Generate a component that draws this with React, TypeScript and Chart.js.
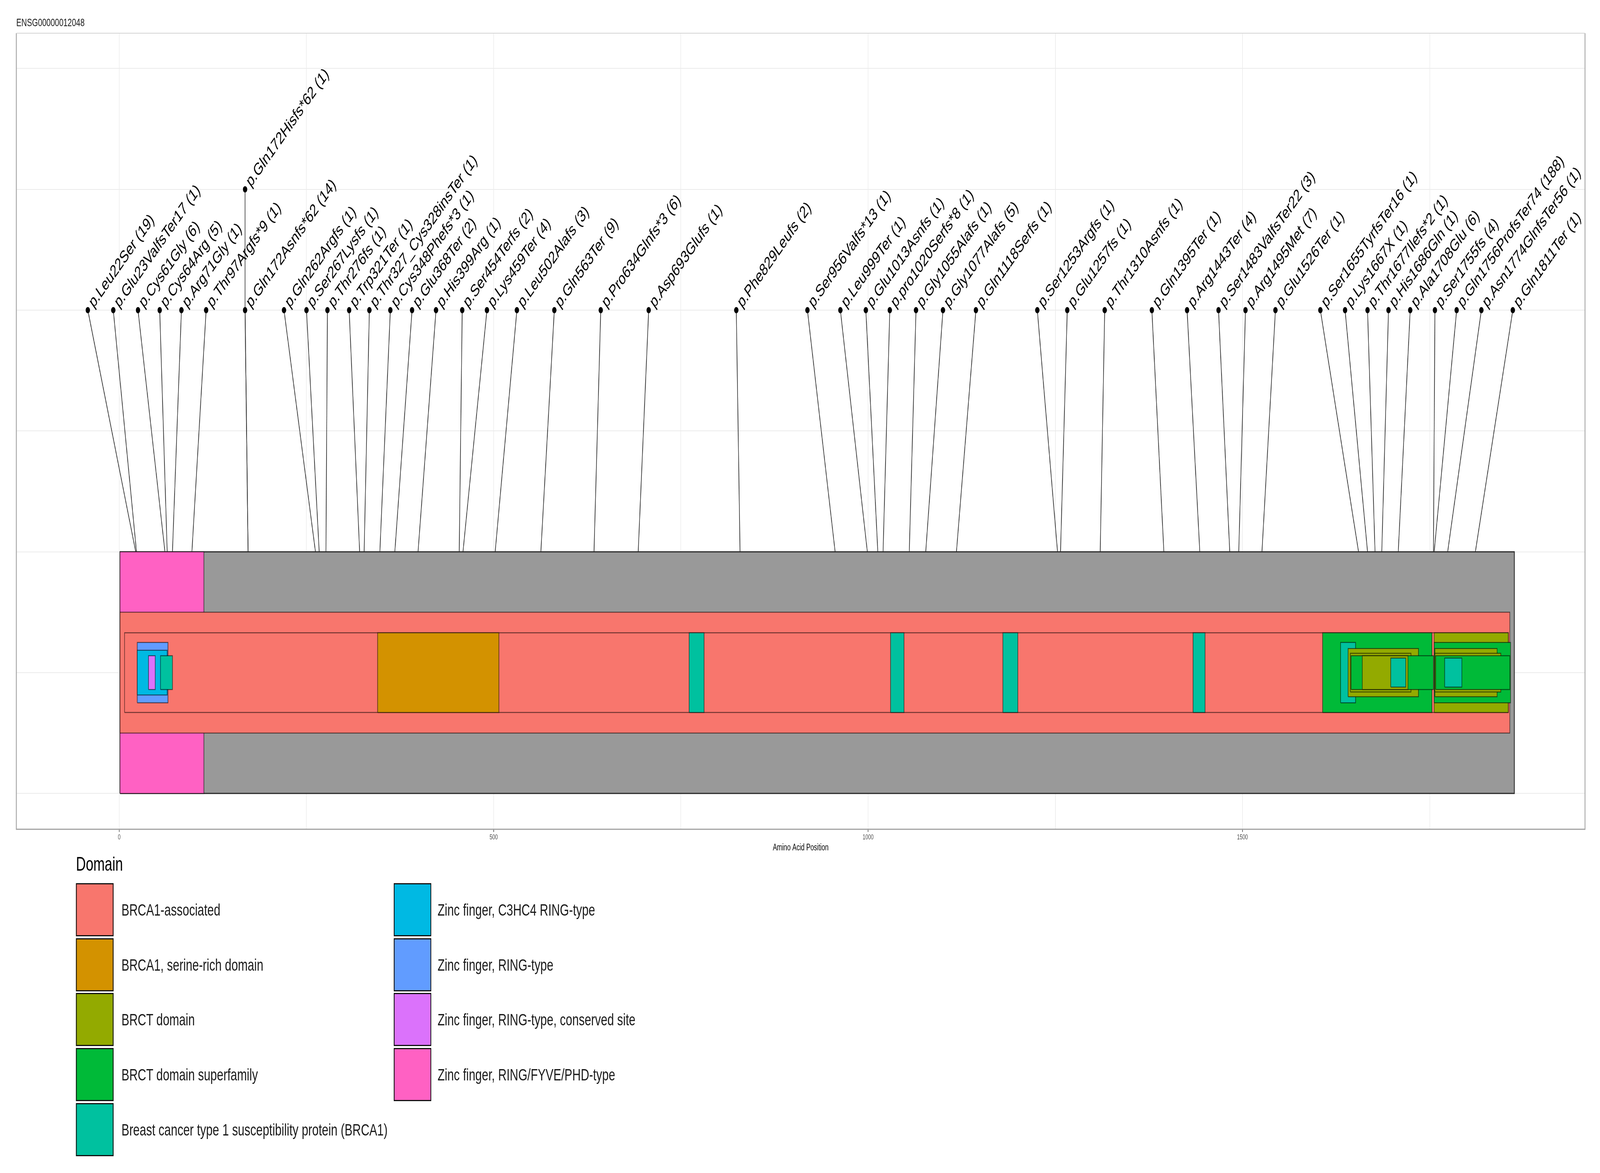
import React, { useEffect, useRef } from 'react';
import { Chart, registerables } from 'chart.js';

Chart.register(...registerables);

// ---------------- data ----------------
const geneId = 'ENSG00000012048';

const mutationNames = [
  'p.Leu22Ser', 'p.Glu23ValfsTer17', 'p.Cys61Gly', 'p.Cys64Arg', 'p.Arg71Gly', 'p.Thr97Argfs*9',
  'p.Gln172Hisfs*62', 'p.Gln172Asnfs*62', 'p.Gln262Argfs', 'p.Ser267Lysfs', 'p.Thr276fs',
  'p.Trp321Ter', 'p.Thr327_Cys328insTer', 'p.Cys348Phefs*3', 'p.Glu368Ter', 'p.His399Arg',
  'p.Ser454Terfs', 'p.Lys459Ter', 'p.Leu502Alafs', 'p.Gln563Ter', 'p.Pro634Glnfs*3',
  'p.Asp693Glufs', 'p.Phe829Leufs', 'p.Ser956Valfs*13', 'p.Leu999Ter', 'p.Glu1013Asnfs',
  'p.pro1020Serfs*8', 'p.Gly1055Alafs', 'p.Gly1077Alafs', 'p.Gln1118Serfs', 'p.Ser1253Argfs',
  'p.Glu1257fs', 'p.Thr1310Asnfs', 'p.Gln1395Ter', 'p.Arg1443Ter', 'p.Ser1483ValfsTer22',
  'p.Arg1495Met', 'p.Glu1526Ter', 'p.Ser1655TyrfsTer16', 'p.Lys1667X', 'p.Thr1677Ilefs*2',
  'p.His1686Gln', 'p.Ala1708Glu', 'p.Ser1755fs', 'p.Gln1756ProfsTer74', 'p.Asn1774GlnfsTer56',
  'p.Gln1811Ter',
];
const mutationPositions = [
  22, 23, 61, 64, 71, 97, 172, 172, 262, 267, 276, 321, 327, 348, 368, 399, 454, 459, 502, 563,
  634, 693, 829, 956, 999, 1013, 1020, 1055, 1077, 1118, 1253, 1257, 1310, 1395, 1443, 1483,
  1495, 1526, 1655, 1667, 1677, 1686, 1708, 1755, 1756, 1774, 1811,
];
const mutationCounts = [
  19, 1, 6, 5, 1, 1, 1, 14, 1, 1, 1, 1, 1, 1, 2, 1, 2, 4, 3, 9, 6, 1, 2, 1, 1, 1, 1, 1, 5, 1,
  1, 1, 1, 1, 4, 3, 7, 1, 1, 1, 1, 1, 6, 4, 188, 1, 1,
];
// repelled label anchor positions (amino acid units)
const labelPositions = [
  -42, -8, 25, 54, 83, 116, 168, 168, 220, 250, 278, 307, 334, 362, 391, 423, 458, 491, 531, 581,
  643, 707, 824, 919, 963, 997, 1029, 1064, 1100, 1144, 1226, 1266, 1316, 1379, 1426, 1468,
  1504, 1544, 1604, 1637, 1667, 1695, 1724, 1757, 1786, 1819, 1861,
];
const labelLevels = [
  3, 3, 3, 3, 3, 3, 4, 3, 3, 3, 3, 3, 3, 3, 3, 3, 3, 3, 3, 3, 3, 3, 3, 3, 3, 3, 3, 3, 3, 3,
  3, 3, 3, 3, 3, 3, 3, 3, 3, 3, 3, 3, 3, 3, 3, 3, 3,
];
const stemLevel = 3;

const proteinStart = 1;
const proteinLength = 1863;
const proteinHalfHeight = 1;

const domainNames = [
  'BRCA1-associated',
  'BRCA1, serine-rich domain',
  'BRCT domain',
  'BRCT domain superfamily',
  'Breast cancer type 1 susceptibility protein (BRCA1)',
  'Zinc finger, C3HC4 RING-type',
  'Zinc finger, RING-type',
  'Zinc finger, RING-type, conserved site',
  'Zinc finger, RING/FYVE/PHD-type',
];
// domain features in drawing order
const featureDomain = [8, 0, 0, 1, 4, 4, 4, 4, 3, 2, 6, 5, 7, 4, 4, 3, 2, 2, 2, 2, 3, 2, 3, 4, 4];
const featureStart = [1, 1, 7, 345, 761, 1030, 1180, 1434, 1607, 1756, 24, 24, 39, 55, 1631, 1756, 1641, 1757, 1644, 1757, 1645, 1660, 1758, 1698, 1770];
const featureEnd = [113, 1857, 1855, 507, 781, 1048, 1200, 1450, 1753, 1855, 65, 64, 48, 71, 1651, 1858, 1735, 1840, 1725, 1845, 1755, 1721, 1857, 1718, 1793];
const featureHalfHeight = [1, 0.5, 0.33, 0.33, 0.33, 0.33, 0.33, 0.33, 0.33, 0.33, 0.25, 0.185, 0.14, 0.14, 0.25, 0.25, 0.2, 0.2, 0.16, 0.16, 0.14, 0.14, 0.14, 0.12, 0.12];

const xTickValues = [0, 250, 500, 750, 1000, 1250, 1500, 1750];
const xTickLabels = ['0', '', '500', '', '1000', '', '1500', ''];
const yGridValues = [-1, 0, 1, 2, 3, 4, 5];
const xMin = -137.45;
const xMax = 1957.45;
const yMin = -1.2965;
const yMax = 5.2925;

// ---------------- styles ----------------
const domainColors = ['#F8766D', '#D39200', '#93AA00', '#00BA38', '#00C19F', '#00B9E3', '#619CFF', '#DB72FB', '#FF61C3'];
const FONT = '"Liberation Sans", Arial, Helvetica, sans-serif';
const W = 5876;
const H = 3003;

function rectPoints(s: number, e: number, h: number) {
  return [
    { x: s, y: -h },
    { x: e, y: -h },
    { x: e, y: h },
    { x: s, y: h },
    { x: s, y: -h },
  ];
}

const labelPlugin = {
  id: 'mutationLabels',
  afterDatasetsDraw(chart: any) {
    const { ctx, scales } = chart;
    const xs = scales.x;
    const ys = scales.y;
    ctx.save();
    ctx.font = `44px ${FONT}`;
    ctx.fillStyle = '#000000';
    ctx.textAlign = 'left';
    ctx.textBaseline = 'middle';
    mutationNames.forEach((name, i) => {
      const px = xs.getPixelForValue(labelPositions[i]);
      const py = ys.getPixelForValue(labelLevels[i]);
      ctx.save();
      ctx.translate(px, py);
      ctx.rotate(-Math.PI / 4);
      ctx.fillText(`${name} (${mutationCounts[i]})`, 18, 0);
      ctx.restore();
    });
    ctx.restore();
  },
};

const borderPlugin = {
  id: 'panelBorder',
  afterDraw(chart: any) {
    const { ctx, chartArea: a } = chart;
    ctx.save();
    ctx.lineWidth = 3;
    ctx.strokeStyle = '#a0a0a0';
    ctx.beginPath();
    ctx.moveTo(a.left, a.top);
    ctx.lineTo(a.left, a.bottom);
    ctx.lineTo(a.right, a.bottom);
    ctx.lineTo(a.right, a.top);
    ctx.stroke();
    ctx.strokeStyle = '#d4d4d4';
    ctx.lineWidth = 2;
    ctx.beginPath();
    ctx.moveTo(a.left, a.top);
    ctx.lineTo(a.right, a.top);
    ctx.stroke();
    ctx.restore();
  },
};

export default function App() {
  const canvasRef = useRef<HTMLCanvasElement>(null);
  const vw = (typeof window !== 'undefined' && window.innerWidth) || W;
  const vh = (typeof window !== 'undefined' && window.innerHeight) || H;
  const sx = vw / W;
  const sy = vh / H;

  useEffect(() => {
    document.documentElement.style.overflow = 'hidden';
    document.body.style.overflow = 'hidden';
    const canvas = canvasRef.current;
    if (!canvas) return;
    Chart.defaults.font.family = FONT;

    const datasets: any[] = [];
    let k = 0;
    const push = (ds: any) => {
      datasets.push({ pointRadius: 0, pointHoverRadius: 0, tension: 0, ...ds, order: -k });
      k += 1;
    };

    mutationPositions.forEach((p, i) => {
      push({
        data: [
          { x: p, y: proteinHalfHeight },
          { x: labelPositions[i], y: stemLevel },
          { x: labelPositions[i], y: labelLevels[i] },
        ],
        showLine: true,
        fill: false,
        borderColor: '#1a1a1a',
        borderWidth: 2.2,
      });
    });

    push({
      data: rectPoints(proteinStart, proteinLength, proteinHalfHeight),
      showLine: true,
      fill: 'shape',
      backgroundColor: '#999999',
      borderColor: '#2a2a2a',
      borderWidth: 3,
      borderJoinStyle: 'miter',
    });

    featureDomain.forEach((d, i) => {
      push({
        data: rectPoints(featureStart[i], featureEnd[i], featureHalfHeight[i]),
        showLine: true,
        fill: 'shape',
        backgroundColor: domainColors[d],
        borderColor: 'rgba(0,0,0,0.55)',
        borderWidth: 2.5,
        borderJoinStyle: 'miter',
      });
    });

    push({
      data: labelPositions.map((x, i) => ({ x, y: labelLevels[i] })),
      showLine: false,
      pointRadius: 8,
      pointHoverRadius: 8,
      pointBackgroundColor: '#000000',
      pointBorderWidth: 0,
      backgroundColor: '#000000',
      borderWidth: 0,
    });

    const chart = new Chart(canvas, {
      type: 'scatter',
      data: { datasets },
      options: {
        animation: false,
        responsive: false,
        maintainAspectRatio: false,
        devicePixelRatio: 1,
        events: [],
        layout: { padding: { left: 60, right: 55, top: 85, bottom: 819 } },
        plugins: {
          legend: { display: false },
          tooltip: { enabled: false },
          title: { display: false },
        },
        scales: {
          x: {
            type: 'linear',
            min: xMin,
            max: xMax,
            afterBuildTicks: (s: any) => {
              s.ticks = xTickValues.map((v) => ({ value: v }));
            },
            afterFit: (s: any) => {
              s.height = 61;
            },
            border: { display: false },
            grid: {
              color: '#ebebeb',
              lineWidth: 2,
              drawTicks: true,
              tickLength: 7,
              tickWidth: 2,
              tickColor: (c: any) => (xTickLabels[c.index] ? '#444444' : 'rgba(0,0,0,0)'),
            },
            ticks: {
              autoSkip: false,
              maxRotation: 0,
              minRotation: 0,
              padding: 3,
              color: '#4d4d4d',
              font: { size: 18, family: FONT },
              callback: (_v: any, idx: number) => xTickLabels[idx],
            },
            title: {
              display: true,
              text: 'Amino Acid Position',
              color: '#000000',
              font: { size: 23, family: FONT },
              padding: 0,
            },
          },
          y: {
            type: 'linear',
            min: yMin,
            max: yMax,
            afterBuildTicks: (s: any) => {
              s.ticks = yGridValues.map((v) => ({ value: v }));
            },
            afterFit: (s: any) => {
              s.width = 0;
            },
            border: { display: false },
            grid: { color: '#ebebeb', lineWidth: 2, drawTicks: false },
            ticks: { display: false },
          },
        },
      } as any,
      plugins: [labelPlugin, borderPlugin],
    });

    return () => {
      chart.destroy();
    };
  }, []);

  const keyTops = [2261, 2402, 2542, 2683, 2824];
  const keyH = 136;
  const keyW = 138;
  const colKeyX = [279, 1446];
  const colTextX = [446, 1607];

  return (
    <div style={{ position: 'fixed', left: 0, top: 0, width: vw, height: vh, overflow: 'hidden', background: '#ffffff' }}>
      <div
        style={{
          position: 'absolute',
          left: 0,
          top: 0,
          width: W,
          height: H,
          background: '#ffffff',
          transform: `scale(${sx}, ${sy})`,
          transformOrigin: '0 0',
        }}
      >
        <canvas ref={canvasRef} width={W} height={H} style={{ position: 'absolute', left: 0, top: 0, width: W, height: H }} />
        <div style={{ position: 'absolute', left: 60, top: 44, fontFamily: FONT, fontSize: 28, lineHeight: '28px', color: '#1a1a1a', whiteSpace: 'nowrap' }}>
          {geneId}
        </div>
        <div style={{ position: 'absolute', left: 279, top: 2187, fontFamily: FONT, fontSize: 50, lineHeight: '50px', color: '#000000', whiteSpace: 'nowrap' }}>
          Domain
        </div>
        {domainNames.map((name, i) => {
          const col = i < 5 ? 0 : 1;
          const row = i < 5 ? i : i - 5;
          const top = keyTops[row];
          return (
            <React.Fragment key={name}>
              <div
                style={{
                  position: 'absolute',
                  left: colKeyX[col],
                  top,
                  width: keyW,
                  height: keyH,
                  boxSizing: 'border-box',
                  background: domainColors[i],
                  border: '3px solid #111111',
                }}
              />
              <div
                style={{
                  position: 'absolute',
                  left: colTextX[col],
                  top: top + keyH / 2 - 21,
                  fontFamily: FONT,
                  fontSize: 43,
                  lineHeight: '43px',
                  color: '#1a1a1a',
                  whiteSpace: 'nowrap',
                }}
              >
                {name}
              </div>
            </React.Fragment>
          );
        })}
      </div>
    </div>
  );
}
